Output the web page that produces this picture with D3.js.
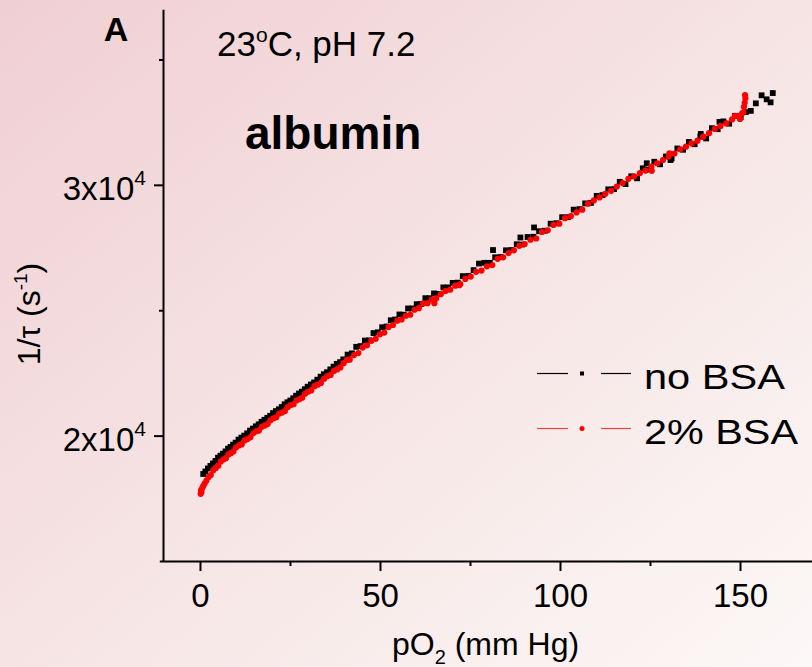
<!DOCTYPE html>
<html>
<head>
<meta charset="utf-8">
<script src="https://cdn.jsdelivr.net/npm/d3@7"></script>
<style>
  html, body { margin: 0; padding: 0; overflow: hidden; }
  svg { display: block; }
</style>
</head>
<body>
<script>
// Relaxation rate 1/tau versus oxygen partial pressure, with and without albumin.
const noBsaPO2 = [
  0.9, 1.5, 2.2, 2.9, 3.6, 4.3, 5.0, 5.7, 6.4, 7.1, 7.8, 8.5, 9.2, 9.9,
  10.7, 11.5, 12.3, 13.1, 13.9, 14.7, 15.5, 16.3, 17.1, 17.9, 18.7, 19.5,
  20.3, 21.1, 21.9, 22.7, 23.5, 24.3, 25.1, 25.9, 26.7, 27.5, 28.3, 29.1, 29.9,
  30.8, 31.7, 32.6, 33.5, 34.4, 35.3, 36.2, 37.1, 38.0, 38.9, 39.8,
  41.0, 42.2, 43.4, 44.6, 45.8, 47.0, 48.2, 49.4, 50.6, 51.8, 53.0, 54.2,
  55.4, 56.6, 57.8, 59.0, 60.2, 61.4, 62.6, 63.8, 65.0, 66.3, 67.6, 68.9,
  70.2, 71.6, 73.0, 74.5, 76.0, 77.5, 79.0, 80.5, 81.4, 82.0, 83.5, 85.0,
  86.5, 88.0, 89.0, 89.5, 91.0, 92.6, 92.8, 94.2, 95.8, 97.4, 99.0,
  100.6, 102.2, 103.8, 105.4, 107.0, 108.6, 110.2, 111.8, 113.4, 115.0,
  116.6, 118.2, 119.8, 121.4, 123.0, 124.1, 124.6, 126.2, 127.8, 129.4,
  130.7, 131.0, 132.6, 134.2, 135.8, 137.4, 139.0, 139.1, 140.6, 142.2,
  143.8, 144.3, 145.4, 147.0, 148.6, 150.2, 151.6, 153.0, 154.4, 156.0,
  157.4, 158.5, 159.1
];
const noBsaRate = [
  18470, 18570, 18690, 18790, 18890, 18990, 19120, 19200, 19280, 19370, 19480, 19550, 19640, 19720,
  19840, 19920, 20000, 20090, 20200, 20280, 20370, 20450, 20550, 20630, 20710, 20790,
  20900, 20980, 21050, 21140, 21250, 21330, 21400, 21490, 21590, 21680, 21750, 21850, 21950,
  22040, 22120, 22230, 22350, 22450, 22530, 22640, 22750, 22860, 22930, 23040,
  23230, 23280, 23540, 23570, 23790, 23800, 24090, 24120, 24320, 24350, 24600, 24630,
  24830, 24820, 25070, 25070, 25240, 25250, 25480, 25480, 25670, 25650, 25910, 25910,
  26090, 26100, 26360, 26370, 26600, 26860, 26890, 26890, 27400, 27110, 27120, 27390,
  27400, 27630, 27900, 27620, 27920, 27930, 28300, 28150, 28170, 28450, 28470,
  28710, 28710, 29010, 29030, 29260, 29280, 29560, 29590, 29820, 29830,
  30120, 30030, 30340, 30260, 30660, 30860, 30610, 30920, 30820, 31130,
  30990, 31050, 31450, 31400, 31710, 31620, 31920, 32030, 31850, 32260,
  32220, 32510, 32530, 32440, 32750, 32700, 32900, 32950, 33250, 33570,
  33410, 33290, 33660
];

const bsaPO2 = [
  0.2, 0.3, 0.4, 0.6, 0.9, 1.3, 1.8, 2.4, 3.0, 3.7, 4.4, 5.1, 5.8, 6.5, 7.2,
  7.9, 8.6, 9.3, 10.0, 10.8, 11.6, 12.4, 13.2, 14.0, 14.8, 15.6, 16.4, 17.2,
  18.0, 18.8, 19.6, 20.4, 21.2, 22.0, 22.8, 23.6, 24.4, 25.2, 26.0, 26.8,
  27.6, 28.4, 29.2, 30.0, 30.9, 31.8, 32.7, 33.6, 34.5, 35.4, 36.3, 37.2,
  38.1, 39.0, 39.9, 40.8, 41.6, 42.8, 44.0, 45.2, 46.4, 47.6, 48.8, 50.0,
  51.2, 52.4, 53.6, 54.8, 56.0, 57.2, 58.4, 59.6, 60.8, 62.0, 63.2, 64.4,
  65.1, 65.6, 66.9, 68.2, 69.5, 70.9, 72.0, 72.3, 73.7, 75.2, 76.7, 78.2,
  79.7, 81.2, 82.7, 84.2, 85.7, 87.2, 88.7, 90.2, 91.8, 93.4, 95.0, 96.6,
  98.2, 99.8, 101.4, 103.0, 104.6, 106.2, 107.8, 109.4, 111.0, 112.6,
  114.2, 115.8, 117.4, 119.0, 120.6, 122.2, 123.8, 125.4, 125.5, 127.0,
  128.6, 130.2, 130.4, 131.8, 133.4, 135.0, 136.6, 138.2, 139.8, 141.4,
  143.0, 144.6, 146.2, 147.8, 148.6, 149.4, 150.0, 150.6, 150.9, 151.1,
  151.3, 151.5, 151.4
];
const bsaRate = [
  17680, 17820, 17740, 17900, 17990, 18090, 18210, 18350, 18430, 18620, 18710, 18800, 18970, 19050, 19100,
  19250, 19300, 19370, 19530, 19610, 19650, 19810, 19860, 19930, 20090, 20170, 20200, 20350,
  20400, 20460, 20610, 20690, 20730, 20880, 20920, 20980, 21140, 21220, 21250, 21400,
  21450, 21510, 21670, 21750, 21800, 21970, 22030, 22100, 22270, 22370, 22420, 22580,
  22640, 22720, 22890, 23020, 23030, 23210, 23290, 23510, 23600, 23780, 23860, 24040,
  24110, 24330, 24410, 24580, 24630, 24780, 24820, 25020, 25080, 25270, 25280, 25420,
  25280, 25470, 25640, 25770, 25820, 25980, 26000, 26040, 26250, 26340, 26530, 26580,
  26750, 26800, 27050, 27110, 27280, 27390, 27570, 27640, 27810, 27860, 28120, 28190,
  28400, 28450, 28670, 28750, 28900, 29010, 29250, 29380, 29500, 29640,
  29760, 29930, 30070, 30240, 30340, 30470, 30570, 30730, 30560, 30860,
  30990, 31130, 31260, 31250, 31420, 31520, 31650, 31760, 31920, 32060,
  32230, 32350, 32450, 32610, 32750, 32750, 32630, 32850, 32890, 33110,
  33270, 33450, 33580
];

const seriesNames = ["no BSA", "2% BSA"];
const xMajorTicks = [0, 50, 100, 150];
const xMinorTicks = [25, 75, 125];
const yMajorTicks = [20000, 30000];
const yMinorTicks = [25000, 35000];
const yTickMantissa = ["2x10", "3x10"];
const yTickExponent = "4";

const W = 812, H = 667;
const FONT = "'Liberation Sans', Arial, Helvetica, sans-serif";

const svg = d3.select("body").append("svg")
  .attr("width", W).attr("height", H)
  .style("font-family", FONT);

// soft pink backdrop, fading toward the lower right
const grad = svg.append("defs").append("linearGradient")
  .attr("id", "bg").attr("x1", 0).attr("y1", 0).attr("x2", 1).attr("y2", 1);
grad.append("stop").attr("offset", "0%").attr("stop-color", "rgb(240,207,211)");
grad.append("stop").attr("offset", "50%").attr("stop-color", "rgb(246,228,228)");
grad.append("stop").attr("offset", "100%").attr("stop-color", "rgb(252,248,247)");
svg.append("rect").attr("width", W).attr("height", H).attr("fill", "url(#bg)");

const x = d3.scaleLinear().domain([-11.3, 170]).range([159.3, 812]);
const y = d3.scaleLinear().domain([15000, 37000]).range([561, 9.3]);

// x axis: minor then major ticks
const xAxisG = svg.append("g").attr("transform", "translate(0,561)");
xAxisG.append("g")
  .call(d3.axisBottom(x).tickValues(xMinorTicks).tickSize(5).tickSizeOuter(0).tickFormat(""))
  .call(g => g.select(".domain").remove());
const xMajor = xAxisG.append("g")
  .call(d3.axisBottom(x).tickValues(xMajorTicks).tickSize(10).tickSizeOuter(0).tickPadding(13)
    .tickFormat(d3.format("d")));
xAxisG.selectAll("path, line").attr("stroke", "#000").attr("stroke-width", 2);
xMajor.selectAll("text").attr("font-size", 33).attr("font-family", FONT).attr("fill", "#000");

// y axis
const yAxisG = svg.append("g").attr("transform", "translate(163,0)");
yAxisG.append("g")
  .call(d3.axisLeft(y).tickValues(yMinorTicks).tickSize(4).tickSizeOuter(0).tickFormat(""))
  .call(g => g.select(".domain").remove());
const yMajor = yAxisG.append("g")
  .call(d3.axisLeft(y).tickValues(yMajorTicks).tickSize(9).tickSizeOuter(0).tickFormat(""));
yAxisG.selectAll("path, line").attr("stroke", "#000").attr("stroke-width", 2);
yMajor.selectAll(".tick").each(function(d, i) {
  const t = d3.select(this).append("text")
    .attr("x", -17).attr("y", 15)
    .attr("text-anchor", "end").attr("fill", "#000")
    .attr("font-size", 33).attr("font-family", FONT);
  t.append("tspan").text(yTickMantissa[i]);
  t.append("tspan").attr("font-size", 21).attr("dy", -15).text(yTickExponent);
});

// data: black squares first, red circles on top
const sq = 5.8;
svg.append("g").selectAll("rect")
  .data(noBsaPO2.map((p, i) => [p, noBsaRate[i]]))
  .join("rect")
  .attr("x", d => x(d[0]) - sq / 2)
  .attr("y", d => y(d[1]) - sq / 2)
  .attr("width", sq).attr("height", sq)
  .attr("fill", "#000");

svg.append("g").selectAll("circle")
  .data(bsaPO2.map((p, i) => [p, bsaRate[i]]))
  .join("circle")
  .attr("cx", d => x(d[0]))
  .attr("cy", d => y(d[1]))
  .attr("r", 3.1)
  .attr("fill", "#ff0000");

// axis titles
const yTitle = svg.append("text")
  .attr("transform", "translate(40,314) rotate(-90)")
  .attr("text-anchor", "middle").attr("font-size", 32).attr("fill", "#000");
yTitle.append("tspan").text("1/\u03c4 (s");
yTitle.append("tspan").attr("font-size", 19).attr("dy", -13).text("-1");
yTitle.append("tspan").attr("dy", 13).text(")");

const xTitle = svg.append("text")
  .attr("x", 392).attr("y", 655)
  .attr("font-size", 32).attr("fill", "#000");
xTitle.append("tspan").text("pO");
xTitle.append("tspan").attr("font-size", 20).attr("dy", 9).text("2");
xTitle.append("tspan").attr("dy", -9).text(" (mm Hg)");

// panel annotations
svg.append("text").attr("x", 116).attr("y", 41)
  .attr("text-anchor", "middle").attr("font-size", 34).attr("font-weight", "bold")
  .text("A");

const cond = svg.append("text").attr("x", 217).attr("y", 56)
  .attr("font-size", 35).attr("fill", "#000");
cond.append("tspan").text("23");
cond.append("tspan").attr("font-size", 21).attr("dy", -14).text("o");
cond.append("tspan").attr("dy", 14).text("C, pH 7.2");

svg.append("text").attr("x", 245).attr("y", 149)
  .attr("font-size", 46).attr("font-weight", "bold")
  .text("albumin");

// legend
const legendRows = [
  { name: seriesNames[0], line: "#000", y: 373.5, shape: "square", width: 141 },
  { name: seriesNames[1], line: "#f04444", y: 428.5, shape: "circle", width: 154 }
];
const lg = svg.append("g");
legendRows.forEach(r => {
  [[537, 568], [601, 631]].forEach(([a, b]) => {
    lg.append("line").attr("x1", a).attr("x2", b).attr("y1", r.y).attr("y2", r.y)
      .attr("stroke", r.line).attr("stroke-width", 1.2);
  });
  if (r.shape === "square") {
    lg.append("rect").attr("x", 582 - 2).attr("y", r.y - 2).attr("width", 4).attr("height", 4).attr("fill", "#000");
  } else {
    lg.append("circle").attr("cx", 582).attr("cy", r.y).attr("r", 2.5).attr("fill", "#ff0000");
  }
  lg.append("text").attr("x", 644).attr("y", r.y + 15.5)
    .attr("font-size", 35).attr("fill", "#000")
    .attr("textLength", r.width).attr("lengthAdjust", "spacingAndGlyphs")
    .text(r.name);
});
</script>
</body>
</html>
